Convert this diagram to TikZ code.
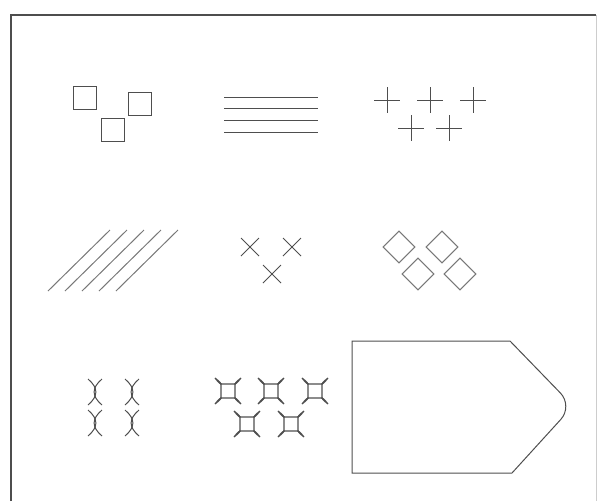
\documentclass[tikz,border=0pt]{standalone}
\usepackage{tikz}
\usepackage{xcolor}
\definecolor{pgdark}{RGB}{78,78,78}
\definecolor{pgmid}{RGB}{120,120,120}
\definecolor{pglight}{RGB}{205,205,205}
\tikzset{
  boxnode/.style={rectangle,draw=pgdark,line width=1.2pt,minimum size=23pt,inner sep=0pt},
  tiltnode/.style={rectangle,draw=pgmid,line width=1pt,minimum size=22.5pt,inner sep=0pt,rotate=45},
  patline/.style={draw=pgdark,line width=1pt},
  hatchline/.style={draw=pgmid,line width=1pt},
  framerule/.style={draw=pgdark,line width=1.6pt},
  framelight/.style={draw=pglight,line width=1pt},
  pics/plusmark/.style={code={\draw[patline] (-13,0) -- (13,0) (0,-13) -- (0,13);}},
  pics/diagmark/.style={code={\draw[patline] (-9,-9) -- (9,9) (-9,9) -- (9,-9);}},
  pics/pinchmark/.style={code={
    \draw[patline] (-7,-13) .. controls (3.5,-4) and (3.5,4) .. (-7,13);
    \draw[patline] (7,-13) .. controls (-3.5,-4) and (-3.5,4) .. (7,13);}},
  pics/pinchbox/.style={code={
    \draw[patline,line width=1.2pt] (-13,-13) .. controls (-8,-7) .. (-6,-7) -- (6,-7)
      .. controls (8,-7) .. (13,-13) .. controls (7,-8) .. (7,-6) -- (7,6)
      .. controls (7,8) .. (13,13) .. controls (8,7) .. (6,7) -- (-6,7)
      .. controls (-8,7) .. (-13,13) .. controls (-7,8) .. (-7,6) -- (-7,-6)
      .. controls (-7,-8) .. cycle;}}
}

\begin{document}
\begin{tikzpicture}[x=1pt,y=-1pt]
  \useasboundingbox (0,0) rectangle (597,501);
  % frame
  \draw[framerule] (11,501) -- (11,15) -- (596,15);
  \draw[framelight] (596,15) -- (596,501);
  % row one
  \node[boxnode] (sqa) at (85,98) {};
  \node[boxnode] (sqb) at (140,104) {};
  \node[boxnode] (sqc) at (113,130) {};
  \foreach \y in {97,108,120,132}
    \draw[patline] (224,\y) -- (318,\y);
  \foreach \p in {(387,100),(430,100),(473,100),(411,128),(449,128)}
    \pic at \p {plusmark};
  % row two
  \foreach \i in {0,...,4}
    \draw[hatchline] ({48+17*\i},291) -- ({110+17*\i},230);
  \foreach \p in {(250,247),(292,247),(272,274)}
    \pic at \p {diagmark};
  \node[tiltnode] (dma) at (399,247) {};
  \node[tiltnode] (dmb) at (442,247) {};
  \node[tiltnode] (dmc) at (418,274) {};
  \node[tiltnode] (dmd) at (460,274) {};
  % row three
  \foreach \p in {(95,392),(132,392),(95,423),(132,423)}
    \pic at \p {pinchmark};
  \foreach \p in {(228,391),(271,391),(315,391),(247,424),(291,424)}
    \pic at \p {pinchbox};
  \draw[patline] (352,341) -- (510,341) [rounded corners=18pt] -- (573,406)
    [sharp corners] -- (512,473) -- (352,473) -- cycle;
\end{tikzpicture}
\end{document}
